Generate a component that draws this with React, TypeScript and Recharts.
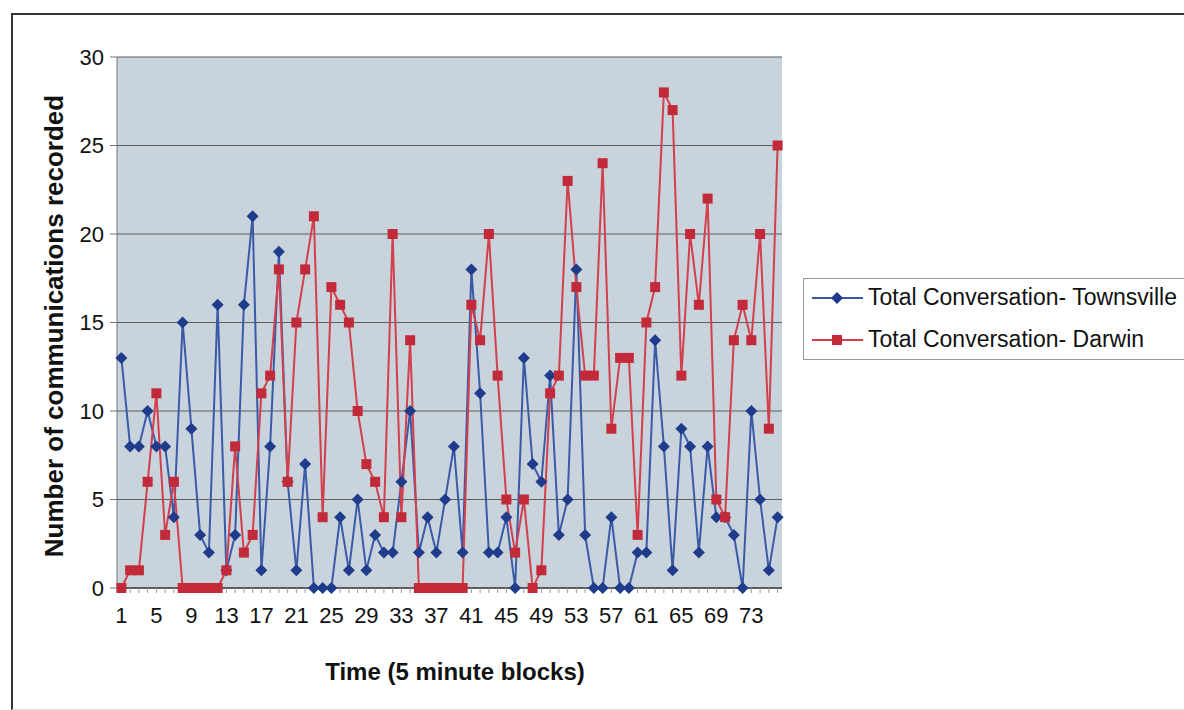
import React from 'react';
import {
  LineChart,
  Line,
  XAxis,
  YAxis,
  CartesianGrid
} from 'recharts';

// 5 minute blocks 1..76
const blocks: string[] = Array.from({ length: 76 }, (_, i) => String(i + 1));

const townsville: number[] = [
  13, 8, 8, 10, 8, 8, 4, 15, 9, 3,
  2, 16, 1, 3, 16, 21, 1, 8, 19, 6,
  1, 7, 0, 0, 0, 4, 1, 5, 1, 3,
  2, 2, 6, 10, 2, 4, 2, 5, 8, 2,
  18, 11, 2, 2, 4, 0, 13, 7, 6, 12,
  3, 5, 18, 3, 0, 0, 4, 0, 0, 2,
  2, 14, 8, 1, 9, 8, 2, 8, 4, 4,
  3, 0, 10, 5, 1, 4,
];

const darwin: number[] = [
  0, 1, 1, 6, 11, 3, 6, 0, 0, 0,
  0, 0, 1, 8, 2, 3, 11, 12, 18, 6,
  15, 18, 21, 4, 17, 16, 15, 10, 7, 6,
  4, 20, 4, 14, 0, 0, 0, 0, 0, 0,
  16, 14, 20, 12, 5, 2, 5, 0, 1, 11,
  12, 23, 17, 12, 12, 24, 9, 13, 13, 3,
  15, 17, 28, 27, 12, 20, 16, 22, 5, 4,
  14, 16, 14, 20, 9, 25,
];

const yTicks: number[] = [0, 5, 10, 15, 20, 25, 30];

const seriesNames = ['Total Conversation- Townsville', 'Total Conversation- Darwin'];

const data = blocks.map((b, i) => ({
  block: b,
  townsville: townsville[i],
  darwin: darwin[i],
}));

const BLUE_LINE = '#3a5aa8';
const BLUE_MARK = '#1f3b8c';
const RED_LINE = '#d23f4d';
const RED_MARK = '#c22a3a';
const FONT = '"Liberation Sans", Arial, sans-serif';

const Diamond = (props: any) => {
  const { cx, cy } = props;
  if (cx == null || cy == null) return null;
  const r = 6;
  return (
    <path
      d={`M${cx},${cy - r}L${cx + r},${cy}L${cx},${cy + r}L${cx - r},${cy}Z`}
      fill={BLUE_MARK}
      stroke="none"
    />
  );
};

const Square = (props: any) => {
  const { cx, cy } = props;
  if (cx == null || cy == null) return null;
  const s = 5;
  return <rect x={cx - s} y={cy - s} width={s * 2} height={s * 2} fill={RED_MARK} stroke="none" />;
};

const XTick = (props: any) => {
  const { x, y, payload, index } = props;
  if (index % 4 !== 0) return <g />;
  return (
    <text
      x={x}
      y={y}
      dy={28}
      textAnchor="middle"
      fill="#111"
      fontSize={22}
      fontFamily={FONT}
    >
      {payload.value}
    </text>
  );
};

const LegendBox = () => (
  <div
    style={{
      position: 'absolute',
      left: 803,
      top: 278,
      width: 400,
      height: 82,
      border: '1px solid #999',
      background: '#fff',
      fontFamily: FONT,
      fontSize: 23,
      color: '#111',
      boxSizing: 'border-box',
    }}
  >
    <svg width={60} height={80} style={{ position: 'absolute', left: 0, top: 0 }}>
      <line x1={8} x2={59} y1={19} y2={19} stroke={BLUE_LINE} strokeWidth={2} />
      <Diamond cx={33} cy={19} />
      <line x1={8} x2={59} y1={61} y2={61} stroke={RED_LINE} strokeWidth={2} />
      <Square cx={33} cy={61} />
    </svg>
    <div style={{ position: 'absolute', left: 64, top: 5, whiteSpace: 'nowrap' }}>
      {seriesNames[0]}
    </div>
    <div style={{ position: 'absolute', left: 64, top: 47, whiteSpace: 'nowrap' }}>
      {seriesNames[1]}
    </div>
  </div>
);

const App: React.FC = () => {
  return (
    <div
      style={{
        position: 'absolute',
        left: 0,
        top: 0,
        width: 1184,
        height: 710,
        background: '#fff',
        overflow: 'hidden',
        fontFamily: FONT,
      }}
    >
      {/* frame of the chart area */}
      <div
        style={{
          position: 'absolute',
          left: 11,
          top: 13,
          width: 1200,
          height: 694,
          borderTop: '2px solid #333',
          borderLeft: '2px solid #333',
          borderBottom: '1px solid #ddd',
        }}
      />

      <div style={{ position: 'absolute', left: 0, top: 0 }}>
        <LineChart
          width={1184}
          height={710}
          data={data}
          margin={{ top: 57, right: 402, bottom: 82, left: 57 }}
        >
          <CartesianGrid
            horizontal
            vertical={false}
            stroke="#5e5e5e"
            fill="#c9d3dc"
            fillOpacity={1}
          />
          <XAxis
            dataKey="block"
            height={40}
            interval={0}
            padding={{ left: 4.4, right: 4.4 }}
            axisLine={{ stroke: '#444', strokeWidth: 1.5 }}
            tickLine={{ stroke: '#999' }}
            tickSize={5}
            tick={<XTick />}
          />
          <YAxis
            width={60}
            domain={[0, 30]}
            ticks={yTicks}
            interval={0}
            axisLine={{ stroke: '#777' }}
            tickLine={{ stroke: '#777' }}
            tickSize={7}
            tickMargin={6}
            tick={{ fill: '#111', fontSize: 22, fontFamily: FONT }}
          />
          <YAxis
            yAxisId="right"
            orientation="right"
            width={0}
            domain={[0, 30]}
            tick={false}
            tickLine={false}
            axisLine={{ stroke: '#888' }}
          />
          <Line
            type="linear"
            dataKey="townsville"
            name={seriesNames[0]}
            stroke={BLUE_LINE}
            strokeWidth={2}
            dot={<Diamond />}
            activeDot={false}
            isAnimationActive={false}
          />
          <Line
            type="linear"
            dataKey="darwin"
            name={seriesNames[1]}
            stroke={RED_LINE}
            strokeWidth={2}
            dot={<Square />}
            activeDot={false}
            isAnimationActive={false}
          />
        </LineChart>
      </div>

      <LegendBox />

      <div
        style={{
          position: 'absolute',
          left: 455,
          top: 672,
          transform: 'translate(-50%, -50%)',
          fontSize: 24,
          fontWeight: 'bold',
          color: '#111',
          whiteSpace: 'nowrap',
        }}
      >
        Time (5 minute blocks)
      </div>
      <div
        style={{
          position: 'absolute',
          left: 54,
          top: 326,
          transform: 'translate(-50%, -50%) rotate(-90deg)',
          fontSize: 26,
          fontWeight: 'bold',
          color: '#111',
          whiteSpace: 'nowrap',
        }}
      >
        Number of communications recorded
      </div>
    </div>
  );
};

export default App;
